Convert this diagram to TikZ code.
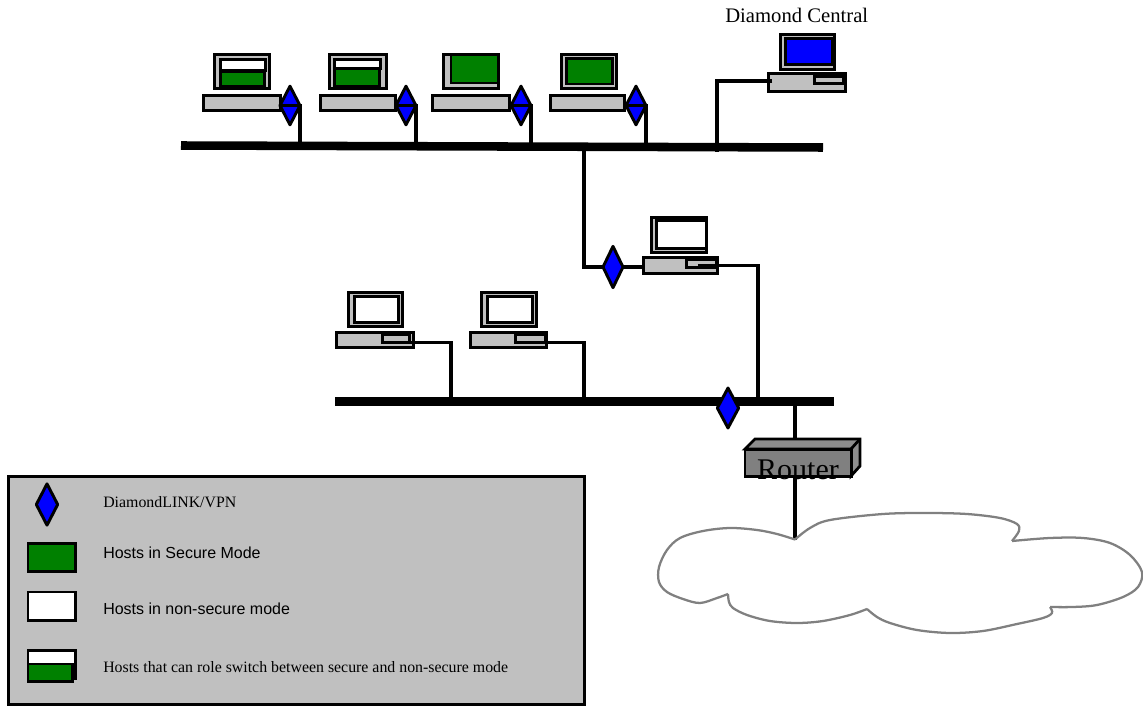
\documentclass[tikz,border=0pt]{standalone}
\usepackage{fontspec}
\setmainfont{Liberation Serif}
\newfontfamily\arialfont{Liberation Sans}
\usetikzlibrary{shapes.geometric}
\definecolor{lgray}{HTML}{C0C0C0}
\definecolor{mgray}{HTML}{808080}
\definecolor{hostgreen}{HTML}{008000}
\definecolor{vpnblue}{HTML}{0000FF}
\tikzset{
  x=0.75pt,y=-0.75pt,
  boxline/.style={draw=black,line width=2.1pt,inner sep=0pt,outer sep=0pt,line join=miter},
  casing/.style={boxline,fill=lgray},
  whitebox/.style={boxline,fill=white},
  greenbox/.style={boxline,fill=hostgreen},
  bluebox/.style={boxline,fill=vpnblue},
  vpn/.style={shape=diamond,aspect=0.5,draw=black,fill=vpnblue,line width=2.2pt,line join=round,inner sep=0pt,outer sep=0pt},
  wire/.style={draw=black,line width=2.4pt,line join=miter},
  busbar/.style={draw=black,line width=6.4pt},
  cloudline/.style={draw=mgray,line width=1.7pt,line join=round},
  lserif/.style={anchor=base west,inner sep=0pt,font=\fontsize{11.9pt}{13pt}\selectfont},
  lsans/.style={anchor=base west,inner sep=0pt,font=\arialfont\fontsize{12pt}{14pt}\selectfont},
}
% style, name, x1, y1, x2, y2 in reference pixels (outer edges)
\newcommand{\pxbox}[6]{%
  \pgfmathsetmacro{\bxx}{(#3+#5)/2}%
  \pgfmathsetmacro{\bxy}{(#4+#6)/2}%
  \pgfmathsetmacro{\bxw}{(#5-#3-2.8)*0.75}%
  \pgfmathsetmacro{\bxh}{(#6-#4-2.8)*0.75}%
  \node[#1,minimum width=\bxw pt,minimum height=\bxh pt] (#2) at (\bxx,\bxy) {};}
\begin{document}
\begin{tikzpicture}
\useasboundingbox (0,0) rectangle (1143,706);
% buses
\coordinate (busAl) at (181,145.5); \coordinate (busAr) at (823,147.5);
\coordinate (busBl) at (335,401.5); \coordinate (busBr) at (834,401.5);
\coordinate (tapA) at (300,146); \coordinate (tapB) at (417,146);
\coordinate (tapC) at (531,146); \coordinate (tapD) at (645,146.5);
\coordinate (tapCentral) at (717,152); \coordinate (tapTrunk) at (584,147);
\coordinate (tapE) at (451,401); \coordinate (tapF) at (584,401);
\coordinate (tapG) at (758,401); \coordinate (tapRouter) at (795,401);
\draw[busbar] (busAl) -- (busAr);
\draw[busbar] (busBl) -- (busBr);
% legend
\pxbox{casing}{legend}{7}{475}{586}{706}
\node[vpn,minimum width=16pt,minimum height=31pt] (legvpn) at (47,504.5) {};
\pxbox{greenbox}{leggreen}{26.5}{542}{76.5}{573}
\pxbox{whitebox}{legwhite}{26.5}{590.5}{76.5}{621.5}
\pxbox{whitebox}{legroleA}{26.5}{649}{76.5}{680}
\pxbox{greenbox}{legroleB}{26.5}{662.5}{73.5}{682.5}
\node[lserif] (t1) at (103,507) {DiamondLINK/VPN};
\node[lsans] (t2) at (103,558) {Hosts in Secure Mode};
\node[lsans] (t3) at (103,614) {Hosts in non-secure mode};
\node[lserif] (t4) at (103,672) {Hosts that can role switch between secure and non-secure mode};
% top row hosts
\pxbox{casing}{monA}{213}{53}{271}{90}
\pxbox{whitebox}{scrAw}{219}{58}{267}{72}
\pxbox{greenbox}{scrAg}{219}{70}{265.5}{88}
\pxbox{casing}{baseA}{202}{94}{281.5}{112}
\pxbox{casing}{monB}{328}{53}{388}{90}
\pxbox{whitebox}{scrBw}{333}{58}{382}{70}
\pxbox{greenbox}{scrBg}{333}{67}{381}{87.5}
\pxbox{casing}{baseB}{319}{94}{396.5}{112}
\pxbox{casing}{monC}{442}{53}{500}{90}
\pxbox{greenbox}{scrC}{449.5}{53.5}{499.5}{84.5}
\pxbox{casing}{baseC}{431}{94}{511}{112}
\pxbox{casing}{monD}{560}{53}{618}{90}
\pxbox{greenbox}{scrD}{565}{57}{613.5}{85.5}
\pxbox{casing}{baseD}{549}{94}{626}{112}
\node[vpn,minimum width=15pt,minimum height=29pt] (vA) at (290,105.5) {};
\node[vpn,minimum width=15pt,minimum height=29pt] (vB) at (406,105.5) {};
\node[vpn,minimum width=15pt,minimum height=29pt] (vC) at (521,105.5) {};
\node[vpn,minimum width=15pt,minimum height=29pt] (vD) at (636,105.5) {};
\foreach \v/\t in {vA/tapA,vB/tapB,vC/tapC,vD/tapD}{
  \draw[wire] (\v.west) -- (\v.east) -- (\v.east |- \t);
}
% Diamond Central
\pxbox{casing}{monX}{779}{33}{836}{71}
\pxbox{bluebox}{scrX}{784}{37}{834}{66}
\coordinate (portX) at (772,81);
\pxbox{casing}{baseX}{767}{72}{847}{93}
\pxbox{casing}{slotX}{813}{75}{845}{85}
\draw[wire] (portX) -| (tapCentral);
\node[anchor=base west,inner sep=0pt,font=\fontsize{15.5pt}{17pt}\selectfont] (labX) at (725,23) {Diamond Central};
% middle host
\pxbox{casing}{monM}{650}{216}{708}{254}
\pxbox{whitebox}{scrM}{655}{219}{708}{250}
\pxbox{casing}{baseM}{642}{256}{719}{275}
\pxbox{casing}{slotM}{685}{258}{718}{269}
\node[vpn,minimum width=15pt,minimum height=31pt] (vM) at (613,267) {};
\coordinate (portM) at (698,265.5);
\draw[wire] (portM) -| (tapG);
\draw[wire] (baseM.west |- vM) -- (vM.east);
\draw[wire] (vM.west) -| (tapTrunk);
% lower hosts
\pxbox{casing}{monE}{347}{291}{404}{328}
\pxbox{whitebox}{scrE}{353}{295}{400}{324}
\pxbox{casing}{baseE}{335}{331}{415}{349}
\pxbox{casing}{slotE}{381}{333}{411}{344}
\pxbox{casing}{monF}{480}{291}{538}{328}
\pxbox{whitebox}{scrF}{486}{295}{534}{324}
\pxbox{casing}{baseF}{469}{331}{548}{349}
\pxbox{casing}{slotF}{514}{333}{547}{344}
\draw[wire] (slotE.south east) -| (tapE);
\draw[wire] (slotF.south east) -| (tapF);
% diamond on lower bus
\node[vpn,minimum width=16pt,minimum height=30pt] (vN) at (728,408) {};
% router
\coordinate (routerTop) at (795,439);
\coordinate (cloudTop) at (795,539.5);
\draw[wire] (tapRouter) -- (routerTop);
\draw[wire] (795,470) -- (cloudTop);
\draw[draw=black,fill=mgray!90!white,line width=2.1pt,line join=miter]
  (745,449) -- (755,439) -- (860,439) -- (860,466) -- (851,476) -- (851,449) -- cycle;
\draw[black,line width=2.1pt] (851,449) -- (860,439);
\pxbox{boxline,fill=mgray}{router}{743.5}{448}{852.5}{478}
\node[anchor=base,inner sep=0pt,text=black,font=\fontsize{22.5pt}{24pt}\selectfont] (routerText) at (798,479) {Router};
% cloud
\draw[cloudline] plot[smooth,tension=0.55] coordinates {(795,539.5) (810,528) (830,520) (883,514) (927,513) (967,514) (1000,518) (1017,524) (1019,531) (1012,541)};
\draw[cloudline] plot[smooth,tension=0.55] coordinates {(1012,541) (1050,538) (1083,538) (1110,543) (1130,555) (1142,572) (1138,587) (1123,597) (1097,605) (1073,607) (1050,607)};
\draw[cloudline] plot[smooth,tension=0.55] coordinates {(1050,607) (1052,613) (1043,618) (1017,624) (983,631) (950,633) (917,630) (890,623) (877,617) (867,609)};
\draw[cloudline] plot[smooth,tension=0.55] coordinates {(867,609) (850,615) (823,621) (797,623) (770,621) (747,615) (733,608) (729,602) (728,594)};
\draw[cloudline] plot[smooth,tension=0.55] coordinates {(728,594) (717,598) (700,603) (683,599) (667,592) (659,582) (659,567) (667,550) (680,538) (703,531) (730,528) (757,530) (777,534) (795,539.5)};
\end{tikzpicture}
\end{document}
